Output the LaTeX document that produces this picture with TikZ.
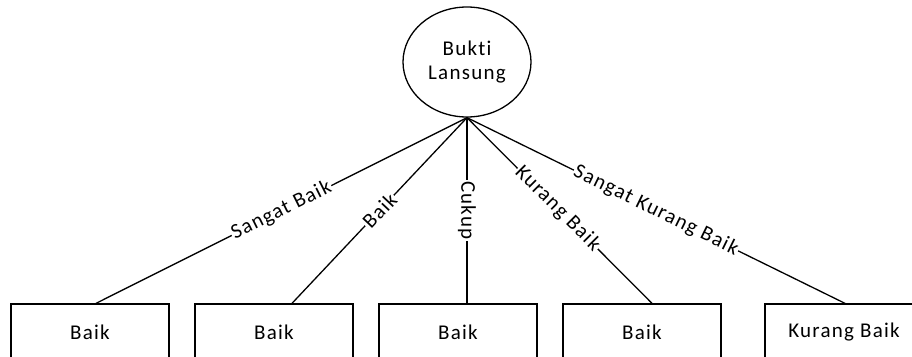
\documentclass[tikz,border=0pt]{standalone}
\usepackage{fontspec}
\setmainfont{Carlito}[LetterSpace=6,Ligatures={NoCommon,NoRare}]
\usetikzlibrary{shapes.geometric}
\begin{document}
\begin{tikzpicture}[x=1pt,y=-1pt,
  every node/.style={font=\fontsize{21}{24}\selectfont},
  topnode/.style={ellipse,draw,line width=1.3pt,minimum width=128pt,minimum height=110pt,inner sep=0pt,align=center},
  boxnode/.style={draw,line width=1.3pt,minimum width=158pt,minimum height=56pt,inner sep=0pt},
  conn/.style={line width=1.3pt},
  lbl/.style={fill=white,inner sep=1pt}]
\useasboundingbox (0,0) rectangle (912,356);
\clip (0,0) rectangle (912,356);
\node[topnode] (top) at (467,62) {Bukti\\Lansung};
\node[boxnode] (b1) at (90,332) {Baik};
\node[boxnode] (b2) at (274,332) {Baik};
\node[boxnode] (b3) at (458,332) {Baik};
\node[boxnode] (b4) at (642,332) {Baik};
\node[boxnode] (b5) at (844,332) {Kurang Baik};
\draw[conn] (top.south) -- ([xshift=6pt]b1.north) node[lbl,midway,sloped] {Sangat Baik};
\draw[conn] (top.south) -- ([xshift=18pt]b2.north) node[lbl,midway,sloped] {Baik};
\draw[conn] (top.south) -- ([xshift=9pt]b3.north) node[lbl,midway,rotate=-90] {Cukup};
\draw[conn] (top.south) -- ([xshift=10pt]b4.north) node[lbl,pos=0.49,sloped] {Kurang Baik};
\draw[conn] (top.south) -- ([xshift=1pt]b5.north) node[lbl,midway,sloped] {Sangat Kurang Baik};
\end{tikzpicture}
\end{document}
